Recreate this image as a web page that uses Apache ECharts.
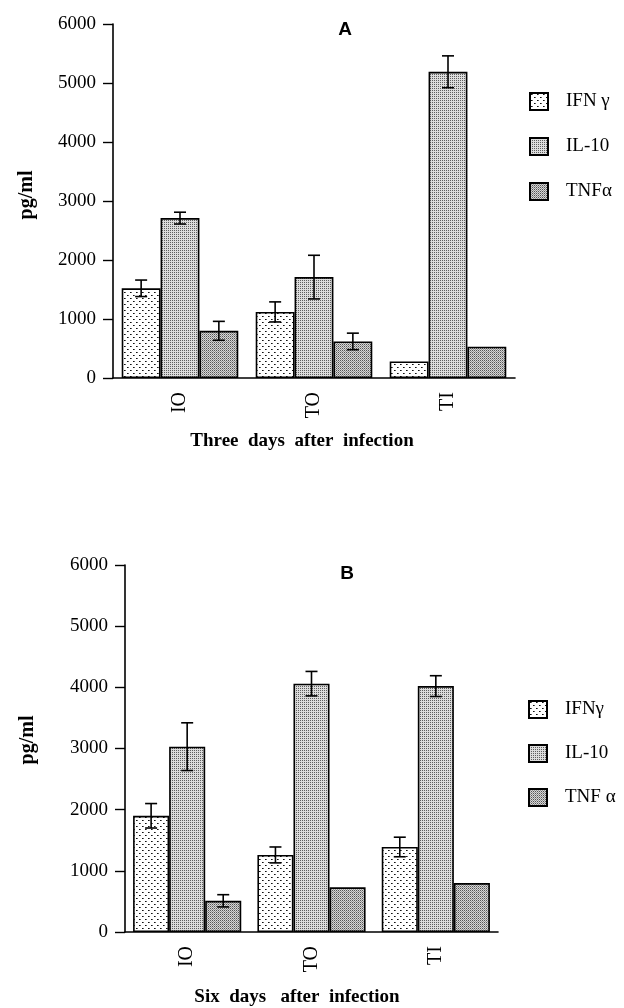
<!DOCTYPE html>
<html>
<head>
<meta charset="utf-8" />
<title>Cytokines after infection</title>
<script src="https://cdn.jsdelivr.net/npm/echarts@6/dist/echarts.min.js"></script>
<style>
	html, body { margin: 0; background: #fff; }
	#main { width: 624px; height: 1008px; }
</style>
</head>
<body>
<div id="main"></div>
<script type="text/javascript">
	// groups on the x axis
	var groups = ['IO', 'TO', 'TI'];
	var names = ['IFN γ', 'IL-10', 'TNFα'];

	// A: three days after infection (pg/ml)
	var ifnA = [1520, 1120, 280];
	var il10A = [2710, 1710, 5190];
	var tnfA = [800, 620, 530];
	var ifnErrA = [140, 170, null];
	var il10ErrA = [100, 370, 270];
	var tnfErrA = [160, 140, null];

	// B: six days after infection (pg/ml)
	var ifnB = [1900, 1260, 1390];
	var il10B = [3030, 4060, 4020];
	var tnfB = [510, 730, 800];
	var ifnErrB = [200, 130, 160];
	var il10ErrB = [390, 200, 170];
	var tnfErrB = [100, null, null];

	var serif = '"Liberation Serif", "DejaVu Serif", serif';

	// small stipple fills like the printed figure
	function pattern(size, bg, dots) {
		var c = document.createElement('canvas');
		c.width = size; c.height = size;
		var g = c.getContext('2d');
		g.fillStyle = bg;
		g.fillRect(0, 0, size, size);
		for (var i = 0; i < dots.length; i++) {
			g.fillStyle = dots[i][2];
			g.fillRect(dots[i][0], dots[i][1], 1, 1);
		}
		return { image: c, repeat: 'repeat' };
	}
	var fills = [
		pattern(6, '#ffffff', [[1, 1, '#111'], [2, 1, '#666'], [4, 4, '#111'], [5, 4, '#666']]),
		pattern(2, '#dcdcdc', [[0, 0, '#5e5e5e']]),
		pattern(2, '#d6d6d6', [[0, 0, '#555'], [1, 1, '#949494']])
	];

	function bars(idx, s, vals) {
		return {
			type: 'bar', name: names[s], xAxisIndex: idx, yAxisIndex: idx,
			data: vals, barWidth: '29%', barGap: '0%',
			itemStyle: { color: fills[s], borderColor: '#000', borderWidth: 1.6 },
			emphasis: { disabled: true }
		};
	}

	function errors(idx, vals, errs) {
		var data = [];
		for (var s = 0; s < 3; s++) {
			for (var i = 0; i < groups.length; i++) {
				if (errs[s][i]) data.push([i, s, vals[s][i], errs[s][i]]);
			}
		}
		return {
			type: 'custom', xAxisIndex: idx, yAxisIndex: idx, z: 5, clip: false,
			encode: { x: 0, y: 2 }, data: data,
			renderItem: function (params, api) {
				var i = api.value(0), s = api.value(1), v = api.value(2), e = api.value(3);
				var bw = api.size([1, 0])[0] * 0.29;
				var hi = api.coord([i, v + e]);
				var lo = api.coord([i, v - e]);
				var x = hi[0] + (s - 1) * bw;
				var cap = 6;
				var st = { stroke: '#000', lineWidth: 1.6 };
				return {
					type: 'group', children: [
						{ type: 'line', shape: { x1: x, y1: hi[1], x2: x, y2: lo[1] }, style: st },
						{ type: 'line', shape: { x1: x - cap, y1: hi[1], x2: x + cap, y2: hi[1] }, style: st },
						{ type: 'line', shape: { x1: x - cap, y1: lo[1], x2: x + cap, y2: lo[1] }, style: st }
					]
				};
			}
		};
	}

	function xAxis(idx) {
		return {
			type: 'category', gridIndex: idx, data: groups,
			axisLine: { lineStyle: { color: '#000', width: 1.6 } },
			axisTick: { alignWithLabel: true, length: 8, lineStyle: { color: '#000', width: 1.6 } },
			axisLabel: { rotate: 90, margin: 14, color: '#000', fontFamily: serif, fontSize: 20 }
		};
	}
	function yAxis(idx) {
		return {
			type: 'value', gridIndex: idx, min: 0, max: 6000, interval: 1000,
			splitLine: { show: false },
			axisLine: { show: true, lineStyle: { color: '#000', width: 1.6 } },
			axisTick: { show: true, length: 10, lineStyle: { color: '#000', width: 1.4 } },
			axisLabel: {
				margin: 17, color: '#000', fontFamily: serif, fontSize: 19,
				formatter: function (v) { return String(v); }
			}
		};
	}

	function legend(left, top, gap, rename) {
		return {
			data: names, orient: 'vertical', left: left, top: top,
			itemWidth: 18, itemHeight: 17, itemGap: gap, icon: 'rect', selectedMode: false,
			textStyle: { color: '#000', fontFamily: serif, fontSize: 19, padding: [0, 0, 0, 13] },
			formatter: function (n) { return rename[n] || n; }
		};
	}

	function label(text, x, y, font, rot) {
		return {
			type: 'text', x: x, y: y, rotation: rot || 0,
			style: { text: text, font: font, fill: '#000', textAlign: 'center', textVerticalAlign: 'middle' }
		};
	}

	var myChart = echarts.init(document.getElementById('main'));
	var option = {
		animation: false,
		backgroundColor: '#fff',
		grid: [
			{ left: 113, top: 24, width: 402, height: 354, containLabel: false, outerBoundsMode: 'none' },
			{ left: 125, top: 565, width: 373, height: 367, containLabel: false, outerBoundsMode: 'none' }
		],
		xAxis: [xAxis(0), xAxis(1)],
		yAxis: [yAxis(0), yAxis(1)],
		legend: [
			legend(524, 87, 26, {}),
			legend(523, 695, 25, { 'IFN γ': 'IFNγ', 'TNFα': 'TNF α' })
		],
		graphic: [
			label('A', 345, 30, 'bold 19px "Liberation Sans", Arial, sans-serif'),
			label('B', 347, 574, 'bold 19px "Liberation Sans", Arial, sans-serif'),
			label('pg/ml', 27, 195, 'bold 20px ' + serif, Math.PI / 2),
			label('pg/ml', 28, 740, 'bold 20px ' + serif, Math.PI / 2),
			label('Three  days  after  infection', 302, 441, 'bold 19px ' + serif),
			label('Six  days   after  infection', 297, 997, 'bold 19px ' + serif)
		],
		series: [
			bars(0, 0, ifnA), bars(0, 1, il10A), bars(0, 2, tnfA),
			errors(0, [ifnA, il10A, tnfA], [ifnErrA, il10ErrA, tnfErrA]),
			bars(1, 0, ifnB), bars(1, 1, il10B), bars(1, 2, tnfB),
			errors(1, [ifnB, il10B, tnfB], [ifnErrB, il10ErrB, tnfErrB])
		]
	};
	myChart.setOption(option);
</script>
</body>
</html>
